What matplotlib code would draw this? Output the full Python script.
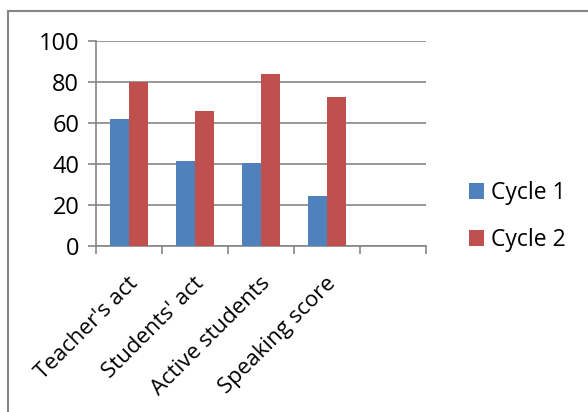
import numpy as np
import matplotlib
matplotlib.use("Agg")
import matplotlib.pyplot as plt
from matplotlib.patches import Rectangle

plt.rcParams['font.family'] = ['Open Sans', 'DejaVu Sans']

categories = ["Teacher's act", "Students' act", "Active students", "Speaking score", ""]
cycle1 = [62, 41.5, 40.5, 24.2]
cycle2 = [80, 66, 83.7, 72.8]
series_names = ["Cycle 1", "Cycle 2"]
yticks = [0, 20, 40, 60, 80, 100]

blue = "#4F81BD"
red = "#C0504D"
grey = "#868686"

W, H = 588, 412
fig = plt.figure(figsize=(W / 100, H / 100), dpi=100)

# outer chart border (cropped at right / bottom)
fig.patches.append(Rectangle((8 / W, -0.1), 1.2, 1 - 11 / H + 0.1, transform=fig.transFigure,
                             fill=False, edgecolor=grey, linewidth=1.5))

ax = fig.add_axes([96 / W, 1 - 246 / H, (426 - 96) / W, (246 - 41) / H])

n = len(categories)
x = np.arange(len(cycle1))
bw = 0.29
ax.bar(x - bw / 2, cycle1, width=bw, color=blue, label=series_names[0], zorder=3)
ax.bar(x + bw / 2, cycle2, width=bw, color=red, label=series_names[1], zorder=3)

ax.set_xlim(-0.5, n - 0.5)
ax.set_ylim(0, 100)
ax.set_yticks(yticks)
ax.set_yticklabels([str(v) for v in yticks], fontsize=17)
ax.yaxis.grid(True, color=grey, linewidth=1.2, zorder=0)

ax.set_xticks(np.arange(n + 1) - 0.5)
ax.set_xticklabels([])
for i, lab in enumerate(categories):
    ax.text(i - 0.02, -13, lab, rotation=45, ha='right', va='top', rotation_mode='anchor',
            fontsize=16, transform=ax.transData)

for s in ['top', 'right']:
    ax.spines[s].set_visible(False)
ax.spines['left'].set_color(grey)
ax.spines['bottom'].set_color(grey)
ax.spines['left'].set_linewidth(1.2)
ax.spines['bottom'].set_linewidth(1.2)
ax.tick_params(axis='both', colors=grey, length=6, width=1.2, labelcolor='black')
ax.tick_params(axis='y', pad=6)

leg = fig.legend(loc='center left', bbox_to_anchor=(469 / W, 1 - 216.5 / H), frameon=False,
                 fontsize=16.5, handlelength=0.65, handleheight=0.65,
                 labelspacing=1.0, handletextpad=0.3, borderpad=0, borderaxespad=0)

fig.savefig("out.png", dpi=100)
